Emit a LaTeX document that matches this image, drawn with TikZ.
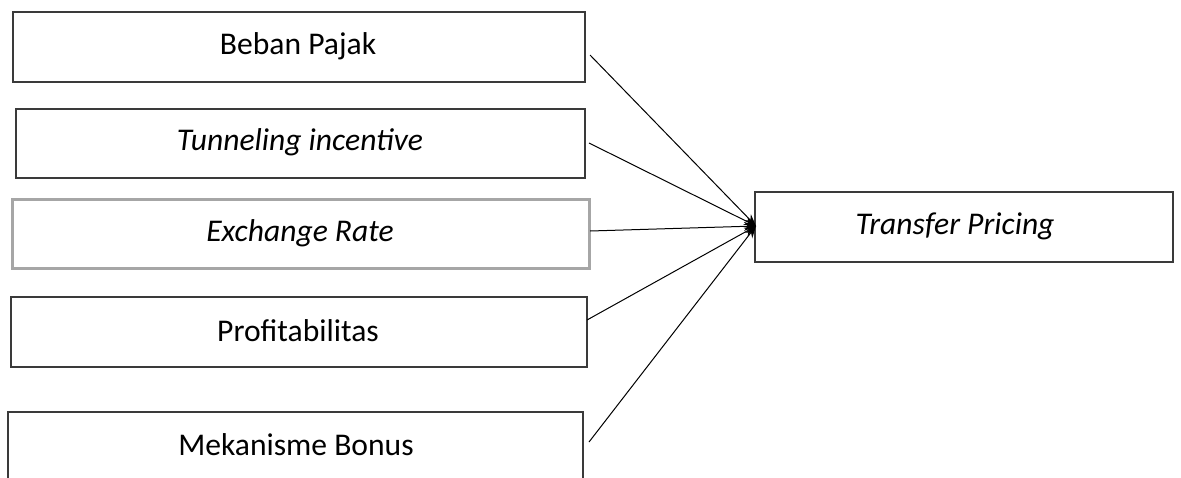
\documentclass[tikz,border=0pt]{standalone}
\usepackage{fontspec}
\setmainfont{Carlito}
\usetikzlibrary{arrows.meta}
\definecolor{boxline}{HTML}{3A3A3A}
\definecolor{greyline}{HTML}{A6A6A6}
\begin{document}
\begin{tikzpicture}[x=0.5pt,y=-0.5pt,
  lbl/.style={font=\fontsize{15.8}{19}\selectfont, text=black, inner sep=0pt},
  framebox/.style={draw=boxline, line width=1pt},
  greybox/.style={draw=greyline, line width=1.5pt},
  link/.style={draw=black, line width=0.5pt, -{Stealth[length=6pt,width=4.5pt]}}]
\useasboundingbox (0,0) rectangle (1181,477);
% boxes
\draw[framebox] (13,12) rectangle (585,82);
\draw[framebox] (16,109) rectangle (585,178);
\draw[greybox] (12,199) rectangle (589,268);
\draw[framebox] (11,297) rectangle (587,367);
\draw[framebox] (583,490) -- (583,412) -- (8,412) -- (8,490);
\draw[framebox] (755,192) rectangle (1173,262);
% labels
\node[lbl] (b1) at (298,46) {Beban Pajak};
\node[lbl] (b2) at (300,142) {\itshape Tunneling incentive};
\node[lbl] (b3) at (300,233) {\itshape Exchange Rate};
\node[lbl] (b4) at (298,331) {Profitabilitas};
\node[lbl] (b5) at (296,445) {Mekanisme Bonus};
\node[lbl] (t) at (955,226) {\itshape Transfer Pricing};
% connector ends
\coordinate (s1) at (590,55);
\coordinate (s2) at (589,143);
\coordinate (s3) at (590,231);
\coordinate (s4) at (587,320);
\coordinate (s5) at (589,442);
\coordinate (tp) at (756,226);
\draw[link] (s1) -- (tp);
\draw[link] (s2) -- (tp);
\draw[link] (s3) -- (tp);
\draw[link] (s4) -- (tp);
\draw[link] (s5) -- (tp);
\end{tikzpicture}
\end{document}
